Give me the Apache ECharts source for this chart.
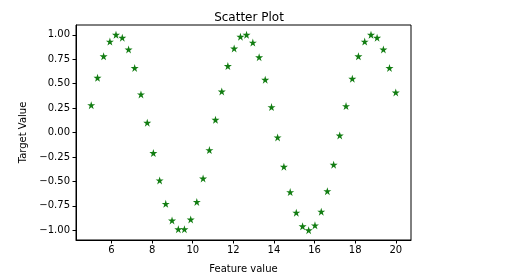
<!DOCTYPE html>
<html>
<head>
<meta charset="utf-8">
<script src="https://cdn.jsdelivr.net/npm/echarts@6/dist/echarts.min.js"></script>
<style>
html,body{margin:0;padding:0;background:#fff;}
#c{width:513px;height:279px;}
</style>
</head>
<body>
<div id="c"></div>
<script>
var featureValues = [5.00,5.31,5.61,5.92,6.22,6.53,6.84,7.14,7.45,7.76,8.06,8.37,8.67,8.98,9.29,9.59,9.90,10.20,10.51,10.82,11.12,11.43,11.73,12.04,12.35,12.65,12.96,13.27,13.57,13.88,14.18,14.49,14.80,15.10,15.41,15.71,16.02,16.33,16.63,16.94,17.24,17.55,17.86,18.16,18.47,18.78,19.08,19.39,19.69,20.00];
var targetValues = [0.28,0.56,0.78,0.93,1.00,0.97,0.85,0.66,0.39,0.10,-0.21,-0.49,-0.73,-0.90,-0.99,-0.99,-0.89,-0.71,-0.47,-0.18,0.13,0.42,0.68,0.86,0.98,1.00,0.92,0.77,0.54,0.26,-0.05,-0.35,-0.61,-0.82,-0.96,-1.00,-0.95,-0.81,-0.60,-0.33,-0.03,0.27,0.55,0.78,0.93,1.00,0.97,0.85,0.66,0.41];
var xTicks = [6,8,10,12,14,16,18,20];
var yTicks = [-1.00,-0.75,-0.50,-0.25,0.00,0.25,0.50,0.75,1.00];

var points = featureValues.map(function(x,i){return [x,targetValues[i]];});
var star = 'path://M100,0 L122.45,69.1 L195.1,69.1 L136.3,111.8 L158.8,180.9 L100,138.2 L41.2,180.9 L63.7,111.8 L4.9,69.1 L77.55,69.1 Z';
var font = 'DejaVu Sans';
var chart = echarts.init(document.getElementById('c'), null, {renderer:'canvas'});
chart.setOption({
  animation:false,
  backgroundColor:'#fff',
  title:{text:'Scatter Plot',left:244,top:7,textAlign:'center',
    textStyle:{fontFamily:font,fontSize:12,fontWeight:'normal',color:'#000'}},
  grid:{left:76,top:25,right:102,bottom:36,show:true,borderColor:'#000',borderWidth:1,containLabel:false},
  xAxis:{type:'value',min:4.25,max:20.75,
    name:'Feature value',nameLocation:'middle',nameGap:24,
    nameTextStyle:{fontFamily:font,fontSize:10,color:'#000'},
    axisLine:{show:true,onZero:false,lineStyle:{color:'#000',width:1}},
    axisTick:{show:true,length:3.5,inside:false,customValues:xTicks,lineStyle:{color:'#000'}},
    axisLabel:{customValues:xTicks,fontFamily:font,fontSize:10,color:'#000',margin:5,
      formatter:function(v){return String(v);}},
    splitLine:{show:false}},
  yAxis:{type:'value',min:-1.1,max:1.1,
    name:'Target Value',nameLocation:'middle',nameGap:43,nameRotate:90,
    nameTextStyle:{fontFamily:font,fontSize:10,color:'#000'},
    axisLine:{show:true,onZero:false,lineStyle:{color:'#000',width:1}},
    axisTick:{show:true,length:3.5,inside:false,customValues:yTicks,lineStyle:{color:'#000'}},
    axisLabel:{customValues:yTicks,fontFamily:font,fontSize:10,color:'#000',margin:6,
      formatter:function(v){return v.toFixed(2).replace('-','\u2212');}},
    splitLine:{show:false}},
  series:[{type:'scatter',data:points,symbol:star,symbolSize:8,
    itemStyle:{color:'#127d12',opacity:1}}]
});
</script>
</body>
</html>
